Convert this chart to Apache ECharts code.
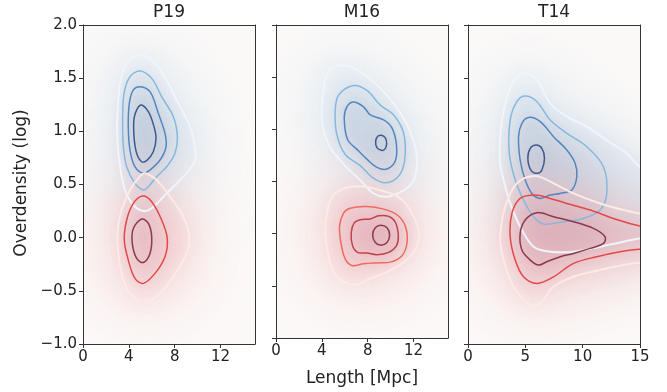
<!DOCTYPE html>
<html lang="en">
<head>
    <meta charset="UTF-8">
    <title>Overdensity vs length</title>
    <style>
        html, body { margin: 0; padding: 0; background: #fff; }
        #chart { width: 667px; height: 392px; }
    </style>
</head>
<body>
<div id="chart"></div>
<script src="https://cdn.jsdelivr.net/npm/echarts@6/dist/echarts.min.js"></script>
<script>
    // panel titles and axis ticks
    var panelNames = ['P19', 'M16', 'T14'];
    var yTicks = [-1, -0.5, 0, 0.5, 1, 1.5, 2];
    var xTicks = [[0, 4, 8, 12], [0, 4, 8, 12], [0, 5, 10, 15]];

    // contour levels, outer -> inner, [length, overdensity]
    var p19Blue = [
        [[5.12,1.724],[6.72,1.577],[8.17,1.294],[9.33,1.044],[9.85,0.793],[9.68,0.699],[8.75,0.573],[7.01,0.385],[5.99,0.275],[5.26,0.25],[4.39,0.307],[3.66,0.448],[3.23,0.667],[2.99,0.918],[3.02,1.2],[3.28,1.483],[3.95,1.655]],
        [[4.97,1.567],[5.99,1.498],[6.86,1.326],[7.88,1.138],[8.23,0.95],[8.02,0.793],[7.3,0.667],[6.42,0.573],[5.7,0.479],[5.26,0.448],[4.53,0.511],[3.81,0.667],[3.52,0.855],[3.46,1.106],[3.58,1.357],[4.1,1.514]],
        [[4.97,1.42],[5.84,1.373],[6.57,1.169],[7.15,0.981],[7.24,0.855],[6.72,0.73],[5.84,0.636],[5.26,0.605],[4.53,0.667],[4.1,0.824],[3.95,1.044],[4.04,1.263],[4.39,1.389]],
        [[5.03,1.247],[5.7,1.185],[6.19,1.044],[6.37,0.934],[6.13,0.808],[5.55,0.724],[5.12,0.714],[4.68,0.793],[4.45,0.95],[4.48,1.138]]
    ];
    var p19Red = [
        [[5.41,0.605],[6.42,0.542],[7.59,0.385],[8.75,0.197],[9.27,0.009],[9.04,-0.148],[7.88,-0.368],[6.72,-0.524],[5.41,-0.603],[4.39,-0.556],[3.52,-0.399],[3.08,-0.148],[3.02,0.072],[3.37,0.26],[4.1,0.448],[4.97,0.579]],
        [[5.2,0.391],[5.99,0.338],[6.86,0.166],[7.35,-0.007],[7.15,-0.179],[6.28,-0.336],[5.26,-0.43],[4.53,-0.383],[3.95,-0.211],[3.6,-0.023],[3.81,0.166],[4.39,0.322]],
        [[5.12,0.175],[5.7,0.134],[5.99,0.009],[5.84,-0.148],[5.26,-0.233],[4.68,-0.195],[4.3,-0.054],[4.39,0.087]]
    ];
    var m16Blue = [
        [[5.31,1.608],[6.76,1.592],[8.22,1.483],[9.68,1.326],[11.14,1.106],[12.01,0.887],[12.3,0.699],[12.01,0.511],[11.14,0.416],[9.68,0.354],[8.51,0.385],[7.35,0.511],[5.89,0.667],[4.58,0.855],[4.0,1.075],[4.08,1.326],[4.43,1.514]],
        [[6.76,1.42],[7.93,1.373],[9.1,1.232],[10.26,1.138],[11.08,0.981],[11.28,0.793],[10.99,0.605],[10.26,0.511],[9.39,0.489],[8.37,0.542],[7.35,0.652],[6.03,0.761],[5.31,0.95],[5.16,1.169],[5.45,1.326]],
        [[6.76,1.263],[7.64,1.216],[8.22,1.138],[9.39,1.091],[10.12,1.012],[10.5,0.855],[10.41,0.699],[9.68,0.62],[8.8,0.636],[7.93,0.714],[7.06,0.808],[6.24,0.902],[5.95,1.106],[6.18,1.216]],
        [[9.18,0.943],[9.53,0.918],[9.65,0.862],[9.48,0.808],[9.18,0.799],[8.8,0.824],[8.69,0.881],[8.86,0.931]]
    ];
    var m16Red = [
        [[5.89,0.432],[7.35,0.454],[9.1,0.416],[10.85,0.338],[12.01,0.166],[12.45,0.009],[12.16,-0.148],[11.14,-0.273],[9.68,-0.368],[8.22,-0.43],[7.06,-0.487],[5.89,-0.462],[5.01,-0.368],[4.58,-0.211],[4.29,0.009],[4.49,0.228],[5.01,0.369]],
        [[6.47,0.244],[7.93,0.26],[9.39,0.235],[10.55,0.181],[11.28,0.072],[11.43,-0.085],[10.99,-0.211],[9.97,-0.273],[8.8,-0.28],[7.64,-0.289],[6.62,-0.305],[6.03,-0.242],[5.66,-0.085],[5.54,0.072],[5.89,0.197]],
        [[7.35,0.134],[8.22,0.14],[8.95,0.172],[9.83,0.166],[10.41,0.109],[10.67,-0.023],[10.5,-0.117],[9.83,-0.179],[8.8,-0.201],[7.93,-0.186],[7.11,-0.179],[6.68,-0.117],[6.56,0.009],[6.82,0.103]],
        [[9.15,0.081],[9.68,0.056],[9.91,-0.013],[9.68,-0.085],[9.15,-0.11],[8.66,-0.085],[8.43,-0.013],[8.66,0.056]]
    ];
    var t14Blue = [
        [[4.99,1.545],[6.01,1.483],[7.17,1.263],[8.62,1.138],[10.36,1.044],[12.1,0.918],[13.84,0.793],[15.0,0.667],[17.32,0.542],[17.32,0.009],[15.0,-0.007],[13.55,-0.038],[11.52,-0.085],[9.2,-0.132],[7.17,-0.132],[5.72,-0.085],[4.55,0.103],[3.68,0.322],[3.1,0.542],[2.81,0.699],[2.81,0.95],[3.25,1.263],[3.97,1.467]],
        [[4.99,1.332],[6.01,1.279],[7.17,1.106],[8.62,0.981],[10.36,0.855],[11.81,0.667],[12.1,0.416],[11.52,0.26],[10.07,0.181],[8.33,0.15],[6.59,0.128],[5.72,0.197],[4.84,0.354],[4.12,0.542],[3.6,0.793],[3.68,1.106],[4.26,1.279]],
        [[5.28,1.131],[6.3,1.091],[7.46,0.95],[8.62,0.824],[9.34,0.699],[9.49,0.573],[9.05,0.448],[8.04,0.416],[7.17,0.401],[6.3,0.369],[5.57,0.416],[4.99,0.542],[4.55,0.73],[4.41,0.95],[4.7,1.075]],
        [[5.95,0.871],[6.44,0.84],[6.67,0.746],[6.44,0.636],[6.06,0.605],[5.48,0.636],[5.22,0.746],[5.43,0.84]]
    ];
    var t14Red = [
        [[5.86,0.579],[7.46,0.511],[9.2,0.416],[11.52,0.322],[13.84,0.253],[15.0,0.228],[17.32,0.213],[17.32,-0.226],[15.0,-0.236],[13.55,-0.258],[11.52,-0.305],[9.2,-0.368],[7.46,-0.462],[6.3,-0.618],[5.43,-0.634],[3.97,-0.462],[3.1,-0.211],[2.81,0.009],[3.25,0.291],[4.26,0.511]],
        [[5.86,0.401],[7.17,0.369],[8.62,0.322],[10.65,0.26],[12.68,0.181],[15.0,0.109],[17.32,0.087],[17.32,-0.117],[15.0,-0.11],[13.26,-0.132],[11.23,-0.179],[9.2,-0.242],[7.46,-0.368],[6.01,-0.43],[4.84,-0.368],[4.12,-0.211],[3.68,0.009],[3.83,0.228],[4.55,0.369]],
        [[6.01,0.235],[7.46,0.197],[9.2,0.15],[10.94,0.087],[11.95,0.009],[11.81,-0.054],[10.65,-0.101],[9.2,-0.148],[8.04,-0.179],[6.88,-0.226],[6.15,-0.258],[5.43,-0.211],[4.7,-0.117],[4.55,0.04],[4.99,0.166]]
    ];

    var blueLines4 = ['#eff5fb', '#86b8de', '#5286c0', '#3e5a8c'];
    var redLines3 = ['#fdeae5', '#e2484a', '#8a3a4c'];
    var redLines4 = ['#fdeae5', '#ef6a5c', '#c4404c', '#8a3a4c'];

    var panels = [
        { blue: p19Blue, red: p19Red, redLines: redLines3 },
        { blue: m16Blue, red: m16Red, redLines: redLines4 },
        { blue: t14Blue, red: t14Red, redLines: redLines3 }
    ];

    var gridLeft = [83, 276, 468];
    var gridWidth = 172;
    var fontFam = 'DejaVu Sans';
    var SHIFT = 3000; // shape is drawn off-plot, only its blurred shadow lands inside

    function polySeries(idx, pts, style, z, blurOnly) {
        return {
            type: 'custom',
            xAxisIndex: idx,
            yAxisIndex: idx,
            clip: true,
            silent: true,
            animation: false,
            z: z,
            data: pts,
            renderItem: function (params, api) {
                if (params.dataIndex !== 0) return;
                var off = blurOnly ? SHIFT : 0;
                return {
                    type: 'polygon',
                    shape: {
                        points: pts.map(function (p) { var c = api.coord(p); return [c[0] + off, c[1]]; }),
                        smooth: 0.35
                    },
                    style: style
                };
            }
        };
    }

    function glow(color, alpha, blur) {
        return { fill: '#000', shadowColor: 'rgba(' + color + ',' + alpha + ')', shadowBlur: blur, shadowOffsetX: -SHIFT };
    }

    var grids = [], xAxes = [], yAxes = [], series = [];
    panels.forEach(function (pn, i) {
        grids.push({
            left: gridLeft[i], top: 25, width: gridWidth, height: 319,
            show: true, backgroundColor: '#fbf9f8', borderWidth: 0
        });
        xAxes.push({
            type: 'value', gridIndex: i, min: 0, max: 15, interval: i === 2 ? 5 : 4, z: 20,
            axisLine: { show: true, onZero: false, lineStyle: { color: '#333', width: 1 } },
            axisTick: { show: true, length: 4, lineStyle: { color: '#333' }, customValues: xTicks[i] },
            axisLabel: { show: true, margin: 6, fontSize: 15, color: '#222', fontFamily: fontFam, customValues: xTicks[i] },
            splitLine: { show: false },
            name: i === 1 ? 'Length [Mpc]' : '',
            nameLocation: 'middle', nameGap: 32,
            nameTextStyle: { fontSize: 17, color: '#222', fontFamily: fontFam }
        });
        yAxes.push({
            type: 'value', gridIndex: i, min: -1, max: 2, interval: 0.5, z: 20,
            axisLine: { show: true, onZero: false, lineStyle: { color: '#333', width: 1 } },
            axisTick: { show: true, length: 4, lineStyle: { color: '#333' }, customValues: yTicks },
            axisLabel: {
                show: i === 0, margin: 6, fontSize: 15, color: '#222', fontFamily: fontFam,
                customValues: yTicks,
                formatter: function (v) { return (v < 0 ? '\u2212' : '') + Math.abs(v).toFixed(1); }
            },
            splitLine: { show: false }
        });

        // blurred density shading
        series.push(polySeries(i, pn.blue[0], glow('196,216,234', 0.6, 70), 1, true));
        series.push(polySeries(i, pn.blue[0], glow('200,218,234', 0.3, 24), 1, true));
        pn.blue.forEach(function (c, k) {
            if (k === 0) return;
            series.push(polySeries(i, c, glow('120,132,168', 0.08, 18), 1, true));
        });
        series.push(polySeries(i, pn.red[0], glow('242,170,170', 0.55, 70), 2, true));
        series.push(polySeries(i, pn.red[0], glow('236,176,180', 0.28, 24), 2, true));
        pn.red.forEach(function (c, k) {
            if (k === 0) return;
            series.push(polySeries(i, c, glow('185,110,135', 0.1, 18), 2, true));
        });
        // contour lines
        pn.blue.forEach(function (c, k) {
            series.push(polySeries(i, c, { fill: 'none', stroke: blueLines4[k], lineWidth: k === 0 ? 2 : 1.5 }, 5, false));
        });
        pn.red.forEach(function (c, k) {
            series.push(polySeries(i, c, { fill: 'none', stroke: pn.redLines[k], lineWidth: k === 0 ? 2 : 1.5 }, 5, false));
        });
    });

    // top and right spines
    panels.forEach(function (pn, i) {
        xAxes.push({
            type: 'value', gridIndex: i, min: 0, max: 15, position: 'top', z: 20,
            axisLine: { show: true, onZero: false, lineStyle: { color: '#333', width: 1 } },
            axisTick: { show: false }, axisLabel: { show: false }, splitLine: { show: false }
        });
        yAxes.push({
            type: 'value', gridIndex: i, min: -1, max: 2, position: 'right', z: 20,
            axisLine: { show: true, onZero: false, lineStyle: { color: '#333', width: 1 } },
            axisTick: { show: false }, axisLabel: { show: false }, splitLine: { show: false }
        });
    });

    var texts = panelNames.map(function (n, i) {
        return {
            type: 'text', x: gridLeft[i] + gridWidth / 2, y: 13,
            style: { text: n, fontSize: 17, fill: '#222', fontFamily: fontFam, textAlign: 'center', textVerticalAlign: 'middle' }
        };
    });
    texts.push({
        type: 'text', x: 22, y: 183, rotation: Math.PI / 2,
        style: { text: 'Overdensity (log)', fontSize: 17, fill: '#222', fontFamily: fontFam, textAlign: 'center', textVerticalAlign: 'middle' }
    });

    var chart = echarts.init(document.getElementById('chart'));
    chart.setOption({
        animation: false,
        backgroundColor: '#fff',
        grid: grids,
        xAxis: xAxes,
        yAxis: yAxes,
        series: series,
        graphic: texts
    });
</script>
</body>
</html>
